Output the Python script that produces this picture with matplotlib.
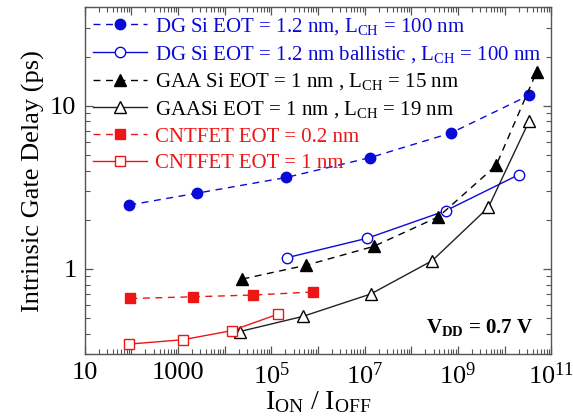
import matplotlib
matplotlib.use("Agg")
import matplotlib.pyplot as plt
from matplotlib.ticker import FixedLocator, FixedFormatter, NullFormatter
import numpy as np

plt.rcParams["font.family"] = ["Liberation Serif", "DejaVu Serif"]
plt.rcParams["mathtext.fontset"] = "custom"
plt.rcParams["mathtext.rm"] = "Liberation Serif"
plt.rcParams["mathtext.it"] = "Liberation Serif:italic"
plt.rcParams["mathtext.bf"] = "Liberation Serif:bold"

# Delay vs on/off ratio for each device
dg_x = [90, 2.6e3, 2.1e5, 1.3e7, 7.1e8, 3.4e10]
dg_y = [2.46, 2.91, 3.63, 4.80, 6.8, 11.6]

dg_ball_x = [2.2e5, 1.15e7, 5.5e8, 2.0e10]
dg_ball_y = [1.17, 1.54, 2.27, 3.77]

gaa15_x = [2.4e4, 5.5e5, 1.55e7, 3.8e8, 6.6e9, 4.9e10]
gaa15_y = [0.865, 1.05, 1.37, 2.08, 4.3, 16.2]

gaa19_x = [2.1e4, 4.7e5, 1.35e7, 2.8e8, 4.5e9, 3.4e10]
gaa19_y = [0.412, 0.51, 0.70, 1.12, 2.38, 8.1]

cnt02_x = [95, 2.1e3, 4.0e4, 7.9e5]
cnt02_y = [0.657, 0.673, 0.69, 0.72]

cnt1_x = [87, 1.26e3, 1.4e4, 1.4e5]
cnt1_y = [0.345, 0.367, 0.417, 0.527]

labels = [
    r"DG Si EOT = 1.2 nm, L$_{\mathrm{CH}}$ = 100 nm",
    r"DG Si EOT = 1.2 nm ballistic , L$_{\mathrm{CH}}$ = 100 nm",
    r"GAA Si EOT = 1 nm , L$_{\mathrm{CH}}$ = 15 nm",
    r"GAASi EOT = 1 nm , L$_{\mathrm{CH}}$ = 19 nm",
    "CNTFET EOT = 0.2 nm",
    "CNTFET EOT = 1 nm",
]

xtick_vals = [10, 1e3, 1e5, 1e7, 1e9, 1e11]
xtick_text = ["10", "1000", r"10$^{5}$", r"10$^{7}$", r"10$^{9}$", r"10$^{11}$"]
ytick_vals = [1, 10]
ytick_text = ["1", "10"]

BLUE = "#0a0ad8"
RED = "#ee1515"
BLACK = "#000000"
dash = (0, (5, 4))

fig = plt.figure(figsize=(5.73, 4.16), dpi=100)
ax = fig.add_axes([0.148, 0.149, 0.814, 0.833])

ax.plot(dg_x, dg_y, color=BLUE, ls=dash, lw=1.0, marker="o", ms=7.5,
        mfc=BLUE, mec=BLUE, label=labels[0])
ax.plot(dg_ball_x, dg_ball_y, color=BLUE, ls="-", lw=1.0, marker="o", ms=7.5,
        mfc="white", mec=BLUE, mew=1.0, label=labels[1])
ax.plot(gaa15_x, gaa15_y, color=BLACK, ls=dash, lw=1.0, marker="^", ms=9,
        mfc=BLACK, mec=BLACK, label=labels[2])
ax.plot(gaa19_x, gaa19_y, color="#222222", ls="-", lw=1.0, marker="^", ms=9,
        mfc="white", mec=BLACK, mew=1.0, label=labels[3])
ax.plot(cnt02_x, cnt02_y, color=RED, ls=dash, lw=1.0, marker="s", ms=7,
        mfc=RED, mec=RED, label=labels[4])
ax.plot(cnt1_x, cnt1_y, color=RED, ls="-", lw=1.0, marker="s", ms=7,
        mfc="white", mec=RED, mew=1.0, label=labels[5])

ax.set_xscale("log")
ax.set_yscale("log")
ax.set_xlim(10, 1e11)
ax.set_ylim(0.3, 40)

# x ticks: every decade, labels on even decades only
decades = [10.0 ** k for k in range(1, 12)]
ax.xaxis.set_major_locator(FixedLocator(decades))
ax.xaxis.set_major_formatter(FixedFormatter(
    [xtick_text[xtick_vals.index(d)] if d in xtick_vals else "" for d in decades]))
xminor = [m * 10.0 ** k for k in range(1, 11) for m in range(2, 10)]
ax.xaxis.set_minor_locator(FixedLocator(xminor))
ax.xaxis.set_minor_formatter(NullFormatter())

ax.yaxis.set_major_locator(FixedLocator(ytick_vals))
ax.yaxis.set_major_formatter(FixedFormatter(ytick_text))
yminor = [m * 10.0 ** k for k in range(-1, 2) for m in range(2, 10)]
ax.yaxis.set_minor_locator(FixedLocator([v for v in yminor if 0.3 <= v <= 40]))
ax.yaxis.set_minor_formatter(NullFormatter())

ax.tick_params(which="both", direction="in", top=True, right=True,
               color="#555555", labelsize=19, pad=6)
ax.tick_params(which="major", length=6, width=0.9)
ax.tick_params(which="minor", length=3.5, width=0.8)
for s in ax.spines.values():
    s.set_color("#555555")
    s.set_linewidth(1.0)

ax.set_xlabel(r"I$_{\mathrm{ON}}$ / I$_{\mathrm{OFF}}$", fontsize=20, labelpad=0)
ax.set_ylabel("Intrinsic Gate Delay (ps)", fontsize=19, labelpad=4)

leg = ax.legend(loc="upper left", frameon=False, fontsize=15,
                handlelength=2.6, handletextpad=0.35, labelspacing=0.33,
                borderaxespad=0.2, borderpad=0.2)
colors = [BLUE, BLUE, BLACK, BLACK, RED, RED]
for t, c in zip(leg.get_texts(), colors):
    t.set_color(c)

ax.text(0.962, 0.06, r"$\mathbf{V_{DD}}$ = 0.7 V", transform=ax.transAxes,
        ha="right", va="baseline", fontsize=15, fontweight="bold")

fig.savefig("out.png", dpi=100)
